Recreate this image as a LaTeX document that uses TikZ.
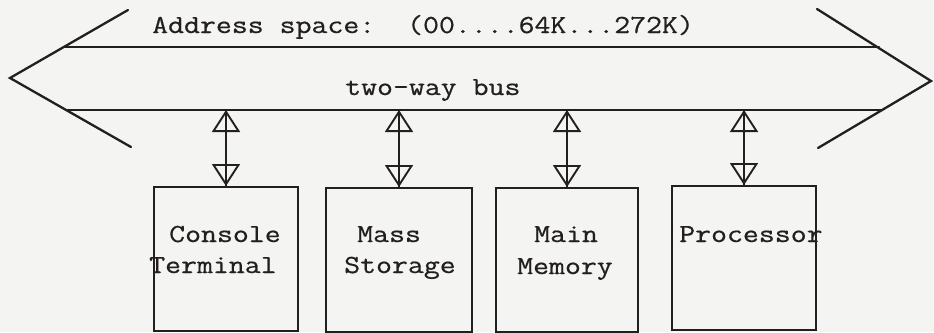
\documentclass[tikz,border=0pt]{standalone}
\usepackage{fontspec}
\setmonofont[FakeStretch=1.19, FakeBold=0.6]{Latin Modern Mono}
\usetikzlibrary{arrows.meta}
\definecolor{ink}{HTML}{231F20}
\definecolor{paper}{HTML}{F4F4F2}
\tikzset{
  busline/.style={draw=ink, line width=2.3pt, line cap=round, line join=miter},
  unitbox/.style={draw=ink, line width=2pt, minimum width=#1, minimum height=144pt, inner sep=0pt, anchor=north west},
  lbl/.style={inner sep=0pt, anchor=base west, text=ink, font=\ttfamily\fontsize{26}{30}\selectfont},
  biarrow/.style={draw=ink, line width=1.9pt,
    {Triangle[open, length=22pt, width=28pt, line width=1.9pt]}-{Triangle[open, length=22pt, width=28pt, line width=1.9pt]}},
  shaft/.style={draw=ink, line width=1.9pt}
}
\begin{document}
\begin{tikzpicture}[x=1pt, y=-1pt]
\useasboundingbox (0,0) rectangle (934,332);
\fill[paper] (0,0) rectangle (934,332);
\clip (0,0) rectangle (934,332);
% bus outline
\coordinate (lt) at (128,10);
\coordinate (lp) at (10,78);
\coordinate (lb) at (131,147);
\coordinate (rt) at (817,9);
\coordinate (rp) at (931,81);
\coordinate (rb) at (818,148);
\coordinate (tl) at (64,47);
\coordinate (tr) at (879,47);
\coordinate (bl) at (66,110);
\coordinate (br) at (882,110);
\draw[busline] (lt) -- (lp) -- (lb);
\draw[busline] (rt) -- (rp) -- (rb);
\draw[busline] (tl) -- (tr);
\draw[busline] (bl) -- (br);
% labels on the bus
\node[lbl] (addr) at (152,33) {Address space:\ \ (00....64K...272K)};
\node[lbl] (twoway) at (345,95) {two-way bus};
% units
\node[unitbox=144pt] (u1) at (153,186) {};
\node[unitbox=146pt] (u2) at (325,187) {};
\node[unitbox=142pt] (u3) at (495,187) {};
\node[unitbox=144pt] (u4) at (671,185) {};
% taps on the bus
\coordinate (b1) at (u1.north |- bl);
\coordinate (b2) at (u2.north |- bl);
\coordinate (b3) at (u3.north |- bl);
\coordinate (b4) at (u4.north |- bl);
\foreach \i in {1,2,3,4}{
  \draw[shaft] (b\i) -- (u\i.north);
  \draw[biarrow] (b\i) -- (u\i.north);
}
% unit texts
\node[lbl] (t1a) at (169,242) {Console};
\node[lbl] (t1b) at (149,273) {Terminal};
\node[lbl] (t2a) at (357,242) {Mass};
\node[lbl] (t2b) at (344,273) {Storage};
\node[lbl] (t3a) at (534,242) {Main};
\node[lbl] (t3b) at (517,274) {Memory};
\node[lbl] (t4a) at (679,242) {Processor};
\end{tikzpicture}
\end{document}
